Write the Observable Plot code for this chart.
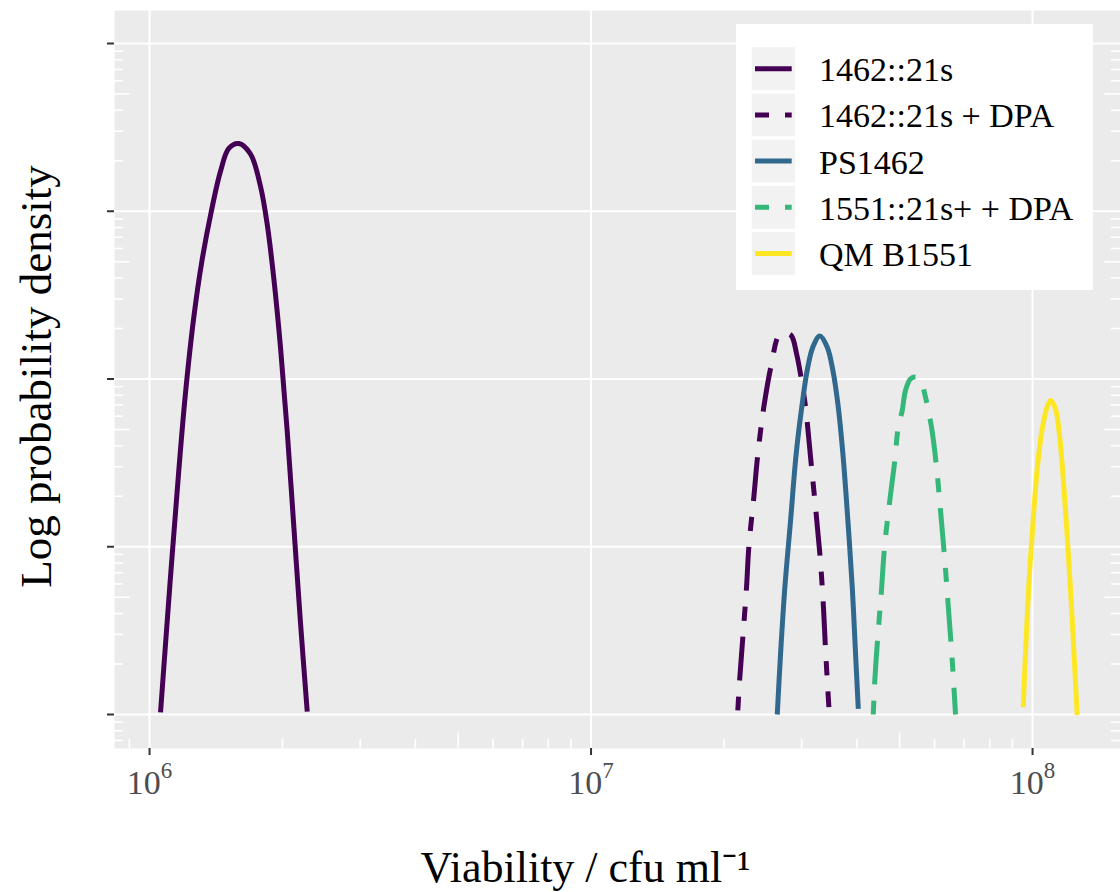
<!DOCTYPE html>
<html>
<head>
<meta charset="utf-8">
<script src="https://cdn.jsdelivr.net/npm/d3@7"></script>
<script src="https://cdn.jsdelivr.net/npm/@observablehq/plot@0.6"></script>
<style>
  body { margin: 0; background: #ffffff; }
  #chart svg { display: block; }
</style>
</head>
<body>
<div id="chart"></div>
<script>
// ---- series names & styling (legend order) ----
const seriesNames = ["1462::21s", "1462::21s + DPA", "PS1462", "1551::21s+ + DPA", "QM B1551"];
const seriesColors = ["#440154", "#440154", "#31688e", "#35b779", "#fde725"];
const seriesDashed = [false, true, false, true, false];

// ---- values (viability in cfu/ml, density) ----
const s1462_x = [1.059e6, 1.112e6, 1.165e6, 1.206e6, 1.260e6, 1.316e6, 1.380e6, 1.448e6, 1.512e6, 1.593e6, 1.693e6, 1.784e6, 1.848e6, 1.912e6, 1.980e6, 2.051e6, 2.123e6, 2.198e6, 2.276e6];
const s1462_y = [1.03e-4, 5.91e-4, 2.86e-3, 8.20e-3, 2.345e-2, 5.16e-2, 9.97e-2, 0.173, 0.237, 0.2535, 0.2195, 0.1405, 0.0829, 0.0397, 0.0154, 4.84e-3, 1.302e-3, 3.49e-4, 1.04e-4];

const s1462dpa_x = [2.150e7, 2.170e7, 2.207e7, 2.250e7, 2.277e7, 2.337e7, 2.387e7, 2.462e7, 2.563e7, 2.663e7, 2.748e7, 2.841e7, 2.921e7, 2.998e7, 3.061e7, 3.158e7, 3.298e7, 3.357e7, 3.398e7, 3.457e7];
const s1462dpa_y = [1.057e-4, 1.595e-4, 2.89e-4, 5.74e-4, 9.94e-4, 1.974e-3, 3.58e-3, 6.79e-3, 1.232e-2, 1.817e-2, 1.88e-2, 1.817e-2, 1.414e-2, 9.80e-3, 6.79e-3, 2.98e-3, 9.08e-4, 4.57e-4, 2.41e-4, 1.105e-4];

const ps1462_x = [2.641e7, 2.687e7, 2.748e7, 2.831e7, 2.915e7, 3.008e7, 3.087e7, 3.179e7, 3.298e7, 3.428e7, 3.530e7, 3.623e7, 3.719e7, 3.817e7, 3.905e7, 3.973e7, 4.030e7];
const ps1462_y = [1.0e-4, 2.30e-4, 5.74e-4, 1.434e-3, 3.58e-3, 7.11e-3, 1.124e-2, 1.547e-2, 1.805e-2, 1.547e-2, 1.124e-2, 7.11e-3, 3.58e-3, 1.434e-3, 5.74e-4, 2.30e-4, 1.081e-4];

const s1551dpa_x = [4.357e7, 4.393e7, 4.449e7, 4.542e7, 4.621e7, 4.750e7, 4.876e7, 4.963e7, 5.068e7, 5.155e7, 5.292e7, 5.460e7, 5.575e7, 5.722e7, 5.904e7, 6.061e7, 6.188e7, 6.328e7, 6.462e7, 6.578e7, 6.692e7];
const s1551dpa_y = [1.0e-4, 1.595e-4, 2.64e-4, 5.24e-4, 9.94e-4, 1.887e-3, 3.27e-3, 5.16e-3, 6.49e-3, 8.54e-3, 1.003e-2, 1.025e-2, 9.80e-3, 7.79e-3, 5.16e-3, 2.98e-3, 1.644e-3, 8.28e-4, 3.98e-4, 2.10e-4, 1.0e-4];

const qmb1551_x = [9.526e7, 9.641e7, 9.808e7, 1.0037e8, 1.0247e8, 1.0519e8, 1.0758e8, 1.0985e8, 1.127e8, 1.151e8, 1.177e8, 1.2045e8, 1.2297e8, 1.2466e8, 1.262e8];
const qmb1551_y = [1.105e-4, 2.35e-4, 5.87e-4, 1.468e-3, 2.915e-3, 5.05e-3, 6.64e-3, 7.44e-3, 6.64e-3, 4.60e-3, 2.318e-3, 9.28e-4, 3.72e-4, 1.873e-4, 0.99e-4];

// ---- axes ----
const xTicks = [1e6, 1e7, 1e8];
const xTickLabels = ["10^6", "10^7", "10^8"];
const yTicks = [1e-4, 1e-3, 1e-2, 1e-1, 1];
const xDomain = [8.33e5, 1.582e8];
const yDomain = [6.27e-5, 1.573];
const xTitle = "Viability / cfu ml\u207B\u00B9";
const yTitle = "Log probability density";

// ---- build table ----
const seriesX = [s1462_x, s1462dpa_x, ps1462_x, s1551dpa_x, qmb1551_x];
const seriesY = [s1462_y, s1462dpa_y, ps1462_y, s1551dpa_y, qmb1551_y];
const rows = seriesNames.flatMap((name, i) => seriesX[i].map((x, j) => ({series: name, x, y: seriesY[i][j]})));

function logMinor(domain, mids) {
  const out = [];
  for (let e = Math.floor(Math.log10(domain[0])) - 1; e <= Math.ceil(Math.log10(domain[1])); e++) {
    for (let k = 2; k <= 9; k++) {
      const v = k * Math.pow(10, e);
      if (v >= domain[0] && v <= domain[1] && ((k === 5) === mids)) out.push(v);
    }
  }
  return out;
}
const xShort = logMinor(xDomain, false), xMid = logMinor(xDomain, true);
const yShort = logMinor(yDomain, false), yMid = logMinor(yDomain, true);

const W = 1120, H = 892, mL = 114, mR = 0, mT = 10, mB = 144;
const pW = W - mL - mR, pH = H - mT - mB;
const dash = "14,16,44,16";

const svg = Plot.plot({
  width: W, height: H,
  marginLeft: mL, marginRight: mR, marginTop: mT, marginBottom: mB,
  style: {fontFamily: "Liberation Serif", background: "#ffffff", color: "#000"},
  x: {type: "log", domain: xDomain},
  y: {type: "log", domain: yDomain},
  marks: [
    Plot.frame({fill: "#ebebeb", stroke: "none"}),
    Plot.gridX(xTicks, {stroke: "#ffffff", strokeOpacity: 1, strokeWidth: 2.1}),
    Plot.gridY(yTicks, {stroke: "#ffffff", strokeOpacity: 1, strokeWidth: 2.1}),
    Plot.tickY(yShort, {y: d => d, stroke: "#ffffff", strokeWidth: 1.6, insetRight: pW - 9}),
    Plot.tickY(yMid, {y: d => d, stroke: "#ffffff", strokeWidth: 1.6, insetRight: pW - 15.5}),
    Plot.tickY(yShort, {y: d => d, stroke: "#ffffff", strokeWidth: 1.6, insetLeft: pW - 9}),
    Plot.tickY(yMid, {y: d => d, stroke: "#ffffff", strokeWidth: 1.6, insetLeft: pW - 15.5}),
    Plot.tickX(xShort, {x: d => d, stroke: "#ffffff", strokeWidth: 1.6, insetTop: pH - 9}),
    Plot.tickX(xMid, {x: d => d, stroke: "#ffffff", strokeWidth: 1.6, insetTop: pH - 15.5}),
    ...seriesNames.map((name, i) => Plot.line(rows.filter(r => r.series === name), {
      x: "x", y: "y", stroke: seriesColors[i], strokeWidth: 5,
      strokeDasharray: seriesDashed[i] ? dash : null,
      strokeLinecap: "butt", strokeLinejoin: "round", curve: "catmull-rom"
    })),
    Plot.axisX(xTicks, {tickSize: 7, stroke: "#333333", strokeWidth: 2, fill: "#4d4d4d", fontSize: 34,
      tickPadding: 14, tickFormat: d => xTickLabels[xTicks.indexOf(d)], label: null}),
    Plot.axisY(yTicks, {tickSize: 7, stroke: "#333333", strokeWidth: 2, tickFormat: () => "", label: null}),
    Plot.text([xTitle], {text: d => d, frameAnchor: "bottom", textAnchor: "middle", lineAnchor: "middle",
      dx: -32, dy: 119, fontSize: 44, fill: "#000"}),
    Plot.text([yTitle], {text: d => d, frameAnchor: "left", textAnchor: "middle", lineAnchor: "middle",
      rotate: -90, dx: -78, dy: -3, fontSize: 45, fill: "#000"})
  ]
});

// superscript exponents on the x tick labels
svg.querySelectorAll('g[aria-label="x-axis tick label"] text').forEach(t => {
  const m = t.textContent.match(/^10\^(\d+)$/);
  if (!m) return;
  t.textContent = "";
  const ns = "http://www.w3.org/2000/svg";
  const a = document.createElementNS(ns, "tspan"); a.textContent = "10"; t.appendChild(a);
  const b = document.createElementNS(ns, "tspan"); b.textContent = m[1];
  b.setAttribute("font-size", "23"); b.setAttribute("dy", "-16"); t.appendChild(b);
});

// legend (inside panel, top right)
const lg = d3.select(svg).append("g").attr("font-family", "Liberation Serif").attr("text-anchor", "start");
lg.append("rect").attr("x", 736).attr("y", 24).attr("width", 357).attr("height", 266).attr("fill", "#ffffff");
seriesNames.forEach((name, i) => {
  const top = 47.3 + 46.2 * i, cy = top + 21.4;
  lg.append("rect").attr("x", 751.7).attr("y", top).attr("width", 43.3).attr("height", 42.7).attr("fill", "#f2f2f2");
  lg.append("line").attr("x1", 755).attr("x2", 791.7).attr("y1", cy).attr("y2", cy)
    .attr("stroke", seriesColors[i]).attr("stroke-width", 5)
    .attr("stroke-dasharray", seriesDashed[i] ? dash : null);
  lg.append("text").attr("x", 819).attr("y", cy + 12.5).attr("font-size", 34).attr("fill", "#000")
    .attr("text-anchor", "start").text(name);
});

document.getElementById("chart").appendChild(svg);
</script>
</body>
</html>
